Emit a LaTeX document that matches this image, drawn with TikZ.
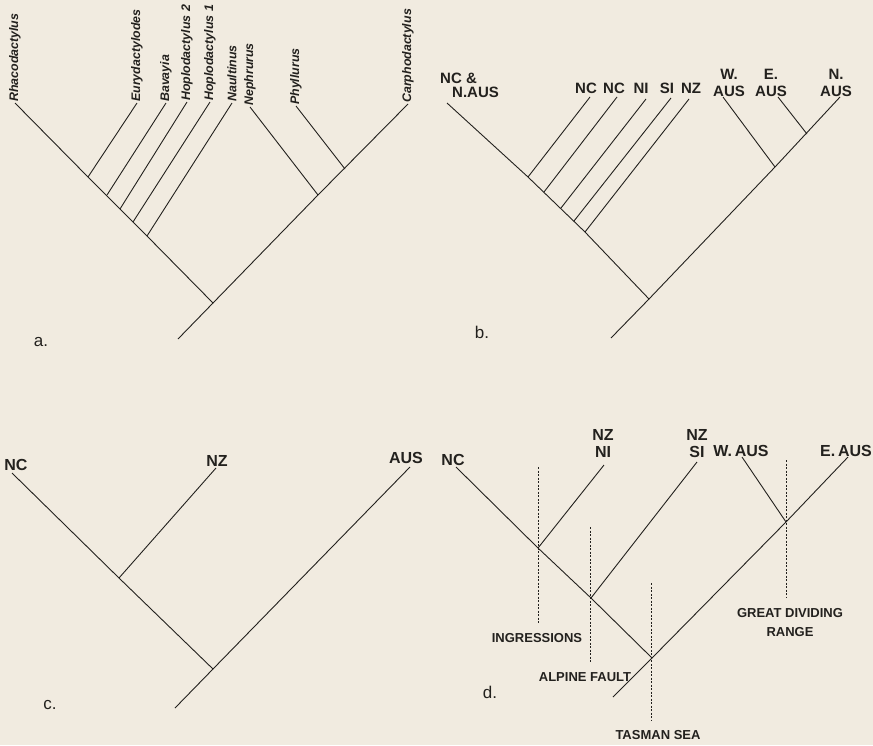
\documentclass[tikz,border=0pt]{standalone}
\usepackage{fontspec}
\setmainfont{Liberation Sans}
\usepackage{xcolor}
\usepackage{tikz}
\usetikzlibrary{positioning}
\definecolor{paper}{RGB}{241,235,224}
\definecolor{ink}{RGB}{35,33,30}
\newcommand{\taxfont}{\fontsize{12.4}{14}\selectfont\bfseries\itshape}
\newcommand{\areafont}{\fontsize{15}{17}\selectfont\bfseries}
\newcommand{\bigareafont}{\fontsize{16}{17}\selectfont\bfseries}
\newcommand{\eventfont}{\fontsize{13}{19}\selectfont\bfseries}
\newcommand{\panelfont}{\fontsize{17}{19}\selectfont}

\begin{document}
\begin{tikzpicture}[x=1pt,y=-1pt,
  branch/.style={draw=ink,line width=0.9pt},
  barrier/.style={draw=ink,line width=0.6pt,dash pattern=on 2pt off 1.5pt},
  taxon/.style={font=\taxfont,text=ink,rotate=90,anchor=west,inner sep=1pt},
  area/.style={font=\areafont,text=ink,inner sep=0pt,align=center},
  bigarea/.style={area,font=\bigareafont},
  event/.style={font=\eventfont,text=ink,inner sep=0pt,align=center},
  panel/.style={font=\panelfont,text=ink,inner sep=0pt}]
  \fill[paper] (0,0) rectangle (873,745);
  \useasboundingbox (0,0) rectangle (873,745);

  % ---- a. the genera
  \coordinate (aRha) at (15,103);
  \coordinate (aEur) at (137,103);
  \coordinate (aBav) at (166,103);
  \coordinate (aHo2) at (187,102);
  \coordinate (aHo1) at (210,102);
  \coordinate (aNau) at (232,103);
  \coordinate (aNep) at (250,107);
  \coordinate (aPhy) at (296,106);
  \coordinate (aCar) at (408,104);
  \coordinate (aJ1) at (88,177);
  \coordinate (aJ2) at (107,195);
  \coordinate (aJ3) at (120,209);
  \coordinate (aJ4) at (133,222);
  \coordinate (aJ5) at (147,236);
  \coordinate (aJ6) at (318,195);
  \coordinate (aJ7) at (345,169);
  \coordinate (aRoot) at (213,303);
  \coordinate (aBase) at (178,339);
  \draw[branch] (aRha) -- (aJ1) -- (aJ5) -- (aRoot) -- (aJ6) -- (aCar);
  \draw[branch] (aRoot) -- (aBase);
  \foreach \j/\t in {aJ1/aEur,aJ2/aBav,aJ3/aHo2,aJ4/aHo1,aJ5/aNau,aJ6/aNep,aJ7/aPhy}{
    \draw[branch] (\j) -- (\t);
  }
  \foreach \t/\s in {aRha/Rhacodactylus,aEur/Eurydactylodes,aBav/Bavayia,
      aHo2/Hoplodactylus 2,aHo1/Hoplodactylus 1,aNau/Naultinus,
      aNep/Nephrurus,aPhy/Phyllurus,aCar/Carphodactylus}{
    \node[taxon] (\t L) at (\t) {\s};
  }
  \node[panel] (aTag) at (41,342) {a.};

  % ---- b. areas of the genera
  \coordinate (bT1) at (447,103);
  \coordinate (bT2) at (590,97);
  \coordinate (bT3) at (617,97);
  \coordinate (bT4) at (646,99);
  \coordinate (bT5) at (671,98);
  \coordinate (bT6) at (689,99);
  \coordinate (bT7) at (723,97);
  \coordinate (bT8) at (778,97);
  \coordinate (bT9) at (840,97);
  \coordinate (bJ2) at (528,177);
  \coordinate (bJ3) at (544,192);
  \coordinate (bJ4) at (561,208);
  \coordinate (bJ5) at (574,221);
  \coordinate (bJ6) at (585,232);
  \coordinate (bJ7) at (775,167);
  \coordinate (bJ8) at (807,134);
  \coordinate (bRoot) at (649,299);
  \coordinate (bBase) at (611,338);
  \draw[branch] (bT1) -- (bJ2) -- (bJ6) -- (bRoot) -- (bJ7) -- (bT9);
  \draw[branch] (bRoot) -- (bBase);
  \foreach \j/\t in {bJ2/bT2,bJ3/bT3,bJ4/bT4,bJ5/bT5,bJ6/bT6,bJ7/bT7,bJ8/bT8}{
    \draw[branch] (\j) -- (\t);
  }
  \node[area,anchor=base west] (bL1a) at (440,83) {NC \&};
  \node[area,anchor=base west] (bL1b) at (452,97) {N.AUS};
  \node[area,anchor=base] (bL2) at (586,93) {NC};
  \node[area,anchor=base] (bL3) at (614,93) {NC};
  \node[area,anchor=base] (bL4) at (641,93) {NI};
  \node[area,anchor=base] (bL5) at (667,93) {SI};
  \node[area,anchor=base] (bL6) at (691,93) {NZ};
  \node[area,anchor=south] (bL7) at (729,97) {W.\\AUS};
  \node[area,anchor=south] (bL8) at (771,97) {E.\\AUS};
  \node[area,anchor=south] (bL9) at (836,97) {N.\\AUS};
  \node[panel] (bTag) at (482,332) {b.};

  % ---- c. three areas
  \coordinate (cNC) at (12,473);
  \coordinate (cNZ) at (216,468);
  \coordinate (cAUS) at (410,467);
  \coordinate (cJ1) at (119,578);
  \coordinate (cRoot) at (213,669);
  \coordinate (cBase) at (175,708);
  \draw[branch] (cNC) -- (cJ1) -- (cRoot) -- (cAUS);
  \draw[branch] (cJ1) -- (cNZ);
  \draw[branch] (cRoot) -- (cBase);
  \node[bigarea,anchor=base] (cL1) at (16,470) {NC};
  \node[bigarea,anchor=base] (cL2) at (217,466) {NZ};
  \node[bigarea,anchor=base] (cL3) at (406,463) {AUS};
  \node[panel] (cTag) at (50,705) {c.};

  % ---- d. areas with the vicariant events
  \coordinate (dNC) at (456,467);
  \coordinate (dNI) at (604,465);
  \coordinate (dSI) at (697,462);
  \coordinate (dWA) at (742,457);
  \coordinate (dEA) at (848,457);
  \coordinate (dJ1) at (538,548);
  \coordinate (dJ2) at (591,598);
  \coordinate (dJ3) at (786,522);
  \coordinate (dRoot) at (652,658);
  \coordinate (dBase) at (613,697);
  \draw[branch] (dNC) -- (dJ1) -- (dJ2) -- (dRoot) -- (dJ3) -- (dEA);
  \draw[branch] (dRoot) -- (dBase);
  \draw[branch] (dJ1) -- (dNI);
  \draw[branch] (dJ2) -- (dSI);
  \draw[branch] (dJ3) -- (dWA);
  \node[bigarea,anchor=base] (dL1) at (453,465) {NC};
  \node[bigarea,anchor=south] (dL2) at (603,458) {NZ\\NI};
  \node[bigarea,anchor=south] (dL3) at (697,458) {NZ\\SI};
  \node[bigarea,anchor=base] (dL4) at (741,456) {W.\,AUS};
  \node[bigarea,anchor=base] (dL5) at (846,456) {E.\,AUS};
  % barriers
  \coordinate (eIngT) at (538,467);  \coordinate (eIngB) at (538,623);
  \coordinate (eAlpT) at (590,527);  \coordinate (eAlpB) at (590,663);
  \coordinate (eTasT) at (651,583);  \coordinate (eTasB) at (651,720);
  \coordinate (eGdrT) at (786,460);  \coordinate (eGdrB) at (786,597);
  \draw[barrier] (eIngT) -- (eIngB);
  \draw[barrier] (eAlpT) -- (eAlpB);
  \draw[barrier] (eTasT) -- (eTasB);
  \draw[barrier] (eGdrT) -- (eGdrB);
  \node[event,anchor=base] (eIng) at (537,642) {INGRESSIONS};
  \node[event,anchor=base] (eAlp) at (585,681) {ALPINE FAULT};
  \node[event,anchor=base] (eTas) at (658,739) {TASMAN SEA};
  \node[event,anchor=south] (eGdr) at (790,637) {GREAT DIVIDING\\RANGE};
  \node[panel] (dTag) at (490,692) {d.};
\end{tikzpicture}
\end{document}
